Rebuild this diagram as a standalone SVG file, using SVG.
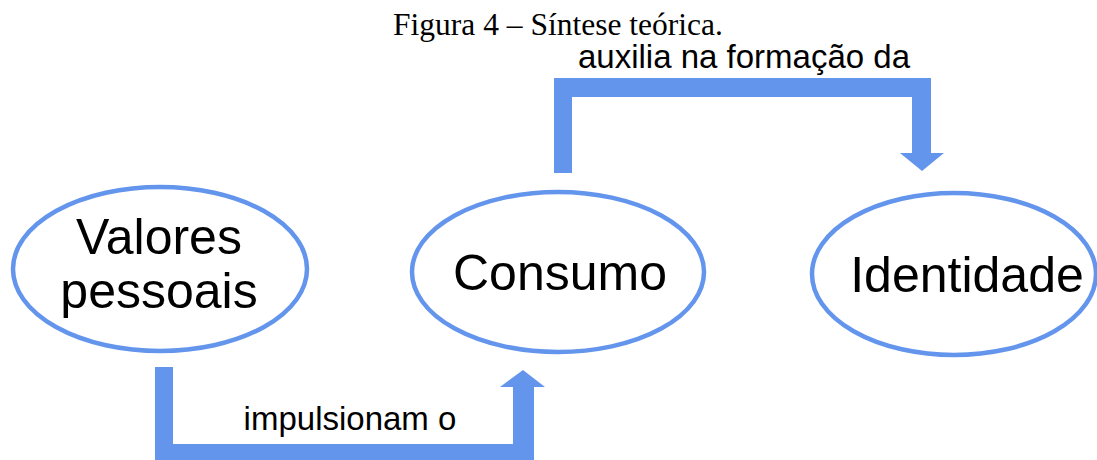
<svg xmlns="http://www.w3.org/2000/svg" width="1097" height="460" viewBox="0 0 1097 460">
<style>
.node ellipse{fill:#fff;stroke:#6495ed;stroke-width:4.5}
.lbl{font-family:"Liberation Sans",Arial,sans-serif;fill:#000;text-anchor:middle}
.big{font-size:50px}
.edge{font-size:33px}
.title{font-family:"Liberation Serif","Times New Roman",serif;font-size:31.5px;fill:#000;text-anchor:middle}
.conn{fill:#6495ed;stroke:none}
</style>
<rect width="1097" height="460" fill="#fff"/>
<text class="title" x="558" y="35">Figura 4 – Síntese teórica.</text>
<g id="connectors">
<path class="conn" d="M554,173 L554,78 L931,78 L931,153 L944,153 L922,171 L900,153 L912,153 L912,97 L572,97 L572,173 Z"/>
<path class="conn" d="M155,367 L173,367 L173,444 L513,444 L513,387 L500,387 L523,370 L545,387 L534,387 L534,462 L155,462 Z"/>
<text class="lbl edge" x="744" y="68">auxilia na formação da</text>
<text class="lbl edge" x="350" y="430">impulsionam o</text>
</g>
<g id="valores" class="node">
<ellipse cx="160" cy="269" rx="147" ry="82"/>
<text class="lbl big" x="159" y="254">Valores</text>
<text class="lbl big" x="159" y="308">pessoais</text>
</g>
<g id="consumo" class="node">
<ellipse cx="558" cy="272" rx="146" ry="80"/>
<text class="lbl big" x="560" y="290">Consumo</text>
</g>
<g id="identidade" class="node">
<ellipse cx="954" cy="274" rx="142" ry="81"/>
<text class="lbl big" x="967" y="292">Identidade</text>
</g>
</svg>
